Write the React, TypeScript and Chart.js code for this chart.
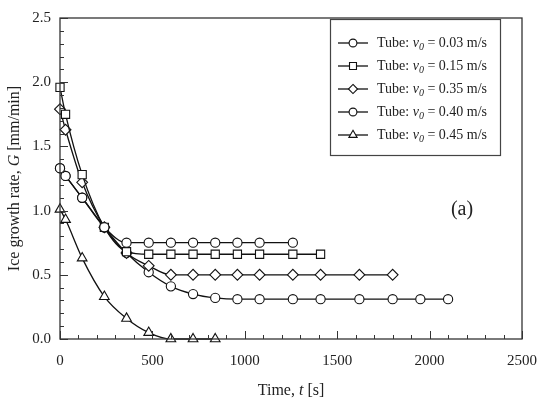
import { useEffect, useRef } from "react";
import { Chart, registerables, type Plugin } from "chart.js";

Chart.register(...registerables);

const FONT = '"Liberation Serif", "Times New Roman", serif';

// time [s] and ice growth rate G [mm/min] per series
const t003 = [0, 30, 120, 240, 360, 480, 600, 720, 840, 960, 1080, 1260];
const g003 = [1.33, 1.27, 1.1, 0.87, 0.75, 0.75, 0.75, 0.75, 0.75, 0.75, 0.75, 0.75];

const t015 = [0, 30, 120, 240, 360, 480, 600, 720, 840, 960, 1080, 1260, 1410];
const g015 = [1.96, 1.75, 1.28, 0.87, 0.68, 0.66, 0.66, 0.66, 0.66, 0.66, 0.66, 0.66, 0.66];

const t035 = [0, 30, 120, 240, 360, 480, 600, 720, 840, 960, 1080, 1260, 1410, 1620, 1800];
const g035 = [1.79, 1.63, 1.22, 0.87, 0.67, 0.57, 0.5, 0.5, 0.5, 0.5, 0.5, 0.5, 0.5, 0.5, 0.5];

const t040 = [0, 30, 120, 240, 360, 480, 600, 720, 840, 960, 1080, 1260, 1410, 1620, 1800, 1950, 2100];
const g040 = [1.33, 1.27, 1.1, 0.87, 0.67, 0.52, 0.41, 0.35, 0.32, 0.31, 0.31, 0.31, 0.31, 0.31, 0.31, 0.31, 0.31];

const t045 = [0, 30, 120, 240, 360, 480, 600, 720, 840];
const g045 = [1.01, 0.93, 0.63, 0.33, 0.16, 0.05, 0.0, 0.0, 0.0];

const velocities = ["0.03", "0.15", "0.35", "0.40", "0.45"];
const markers = ["circle", "rect", "rectRot", "circle", "triangle"] as const;
const markerRadius = [4.6, 5.8, 5.4, 4.6, 5.6];

type Part = { text: string; italic?: boolean; sub?: boolean };

function drawRich(ctx: CanvasRenderingContext2D, parts: Part[], x: number, y: number, size: number, align: "center" | "left") {
  const fontOf = (p: Part) => `${p.italic ? "italic " : ""}${p.sub ? Math.round(size * 0.68) : size}px ${FONT}`;
  let total = 0;
  for (const p of parts) {
    ctx.font = fontOf(p);
    total += ctx.measureText(p.text).width;
  }
  let cx = align === "center" ? x - total / 2 : x;
  ctx.textAlign = "left";
  ctx.textBaseline = "middle";
  for (const p of parts) {
    ctx.font = fontOf(p);
    ctx.fillText(p.text, cx, p.sub ? y + size * 0.3 : y);
    cx += ctx.measureText(p.text).width;
  }
}

function drawMarker(ctx: CanvasRenderingContext2D, kind: string, x: number, y: number, r: number) {
  ctx.beginPath();
  if (kind === "circle") {
    ctx.arc(x, y, r, 0, Math.PI * 2);
  } else if (kind === "rect") {
    const s = r * Math.SQRT1_2;
    ctx.rect(x - s, y - s, 2 * s, 2 * s);
  } else if (kind === "rectRot") {
    ctx.moveTo(x, y - r);
    ctx.lineTo(x + r, y);
    ctx.lineTo(x, y + r);
    ctx.lineTo(x - r, y);
    ctx.closePath();
  } else {
    ctx.moveTo(x, y - r);
    ctx.lineTo(x + r * 0.866, y + r * 0.5);
    ctx.lineTo(x - r * 0.866, y + r * 0.5);
    ctx.closePath();
  }
  ctx.fillStyle = "#fff";
  ctx.fill();
  ctx.stroke();
}

const decor: Plugin<"line"> = {
  id: "decor",
  afterDraw(chart) {
    const { ctx, chartArea: a, scales } = chart;
    const xs = scales.x;
    const ys = scales.y;
    ctx.save();
    ctx.strokeStyle = "#333";
    ctx.lineWidth = 1.3;
    ctx.strokeRect(a.left, a.top, a.right - a.left, a.bottom - a.top);

    // inward ticks
    ctx.lineWidth = 1;
    ctx.beginPath();
    for (let v = 0; v <= 2500; v += 100) {
      const px = Math.round(xs.getPixelForValue(v)) + 0.5;
      const len = v % 500 === 0 ? 8 : 4;
      ctx.moveTo(px, a.bottom);
      ctx.lineTo(px, a.bottom - len);
    }
    for (let i = 0; i <= 25; i++) {
      const py = Math.round(ys.getPixelForValue(i / 10)) + 0.5;
      const len = i % 5 === 0 ? 8 : 4;
      ctx.moveTo(a.left, py);
      ctx.lineTo(a.left + len, py);
    }
    ctx.stroke();

    ctx.fillStyle = "#222";
    drawRich(ctx, [{ text: "Time, " }, { text: "t", italic: true }, { text: " [s]" }], (a.left + a.right) / 2, 391, 16, "center");

    ctx.save();
    ctx.translate(15, (a.top + a.bottom) / 2);
    ctx.rotate(-Math.PI / 2);
    drawRich(ctx, [{ text: "Ice growth rate, " }, { text: "G", italic: true }, { text: " [mm/min]" }], 0, 0, 16, "center");
    ctx.restore();

    ctx.fillStyle = "#222";
    drawRich(ctx, [{ text: "(a)" }], 462, 210, 20, "center");

    // legend
    ctx.strokeStyle = "#444";
    ctx.lineWidth = 1.2;
    ctx.strokeRect(330.5, 19.5, 170, 136);
    velocities.forEach((v, i) => {
      const y = 43 + i * 23;
      ctx.strokeStyle = "#111";
      ctx.lineWidth = 1.3;
      ctx.beginPath();
      ctx.moveTo(338, y);
      ctx.lineTo(368, y);
      ctx.stroke();
      ctx.lineWidth = 1.1;
      drawMarker(ctx, markers[i], 353, y, markerRadius[i] * 0.85);
      ctx.fillStyle = "#222";
      drawRich(
        ctx,
        [{ text: "Tube: " }, { text: "v", italic: true }, { text: "0", italic: true, sub: true }, { text: ` = ${v} m/s` }],
        377,
        y,
        14,
        "left"
      );
    });
    ctx.restore();
  },
};

export default function App() {
  const canvasRef = useRef<HTMLCanvasElement>(null);

  useEffect(() => {
    if (!canvasRef.current) return;
    const series = [
      [t003, g003],
      [t015, g015],
      [t035, g035],
      [t040, g040],
      [t045, g045],
    ];
    const chart = new Chart(canvasRef.current, {
      type: "line",
      data: {
        datasets: series.map(([t, g], i) => ({
          label: `Tube: v0 = ${velocities[i]} m/s`,
          data: t.map((x, k) => ({ x, y: g[k] })),
          borderColor: "#111",
          borderWidth: 1.3,
          backgroundColor: "#fff",
          pointStyle: markers[i],
          pointRadius: markerRadius[i],
          pointBorderWidth: 1.1,
          pointBorderColor: "#111",
          pointBackgroundColor: "#fff",
          cubicInterpolationMode: "monotone" as const,
          clip: false as const,
        })),
      },
      options: {
        animation: false,
        responsive: true,
        maintainAspectRatio: false,
        layout: { padding: { top: 10, right: 20, left: 0, bottom: 0 } },
        plugins: { legend: { display: false }, tooltip: { enabled: false } },
        scales: {
          x: {
            type: "linear",
            min: 0,
            max: 2500,
            grid: { drawOnChartArea: false, drawTicks: false },
            border: { display: false },
            ticks: {
              stepSize: 500,
              padding: 13,
              color: "#222",
              font: { family: FONT, size: 15 },
              maxRotation: 0,
              callback: (v) => String(v),
            },
            afterFit: (s) => {
              s.height = 66;
            },
          },
          y: {
            min: 0,
            max: 2.5,
            grid: { drawOnChartArea: false, drawTicks: false },
            border: { display: false },
            ticks: {
              stepSize: 0.5,
              padding: 9,
              color: "#222",
              font: { family: FONT, size: 15 },
              callback: (v) => Number(v).toFixed(1),
            },
            afterFit: (s) => {
              s.width = 60;
            },
          },
        },
      },
      plugins: [decor],
    });
    return () => chart.destroy();
  }, []);

  return (
    <div style={{ position: "absolute", left: 0, top: 0, width: 550, height: 405, background: "#fff" }}>
      <canvas ref={canvasRef} />
    </div>
  );
}
